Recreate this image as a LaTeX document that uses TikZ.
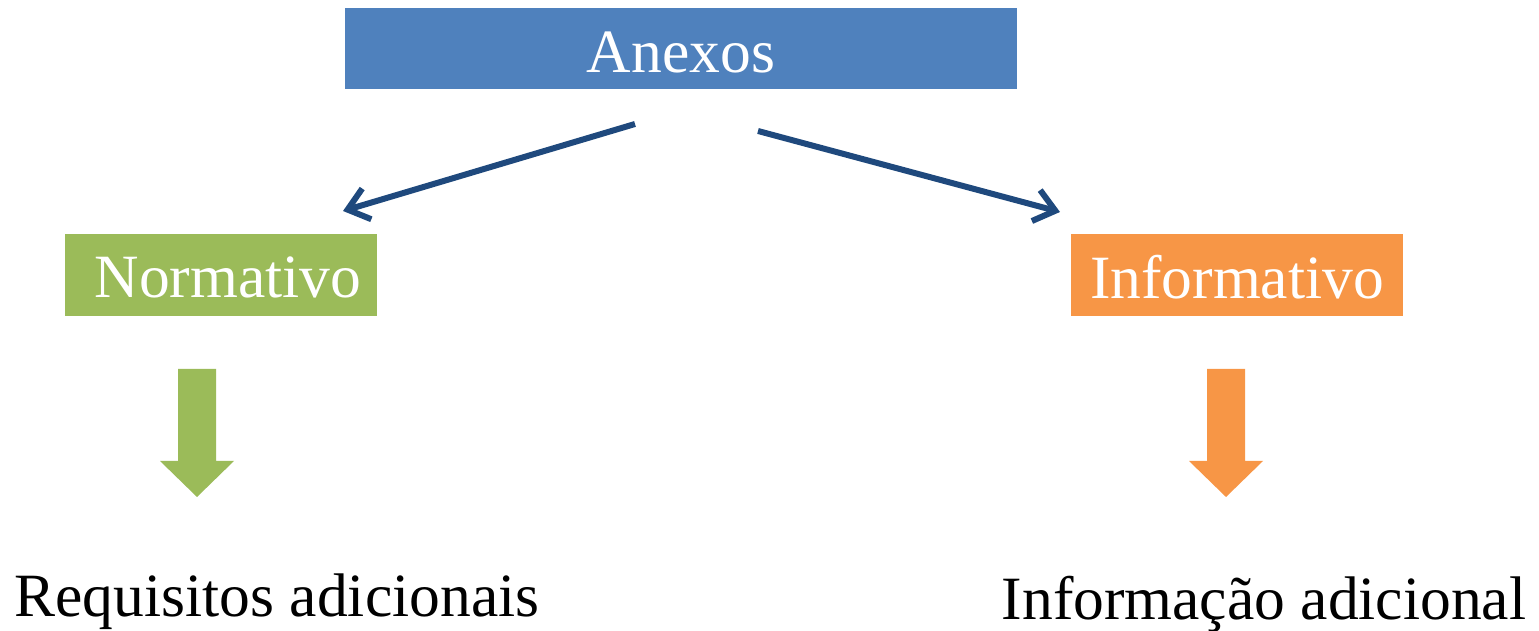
\documentclass[tikz,border=0pt]{standalone}
\usepackage{fontspec}
\setmainfont{Liberation Serif}
\definecolor{anexblue}{HTML}{4F81BD}
\definecolor{normgreen}{HTML}{9BBB59}
\definecolor{infoorange}{HTML}{F79646}
\definecolor{linkblue}{HTML}{1F497D}
\tikzset{
  boxnode/.style={inner sep=0pt,text=white,font=\fontsize{17.5}{20}\selectfont},
  captext/.style={inner sep=0pt,text=black,font=\fontsize{17.5}{20}\selectfont},
  linkarrow/.style={draw=linkblue,line width=0.6mm,->,>={Straight Barb[length=2mm,width=3.2mm]}},
}
\usetikzlibrary{arrows.meta}
\begin{document}
\begin{tikzpicture}[x=0.01cm,y=-0.01cm]
\useasboundingbox (0,0) rectangle (1539,631);

% boxes:
\path[fill=anexblue] (345,8) rectangle (1017,89);
\path[fill=normgreen] (65,234) rectangle (377,316);
\path[fill=infoorange] (1071,234) rectangle (1403,316);
\path (681,52) node[boxnode] (anexos) {Anexos};
\path (228,277) node[boxnode] (normativo) {Normativo};
\path (1237,277) node[boxnode] (informativo) {Informativo};

% links:
\coordinate (la) at (635,124);
\coordinate (lb) at (343,211);
\coordinate (ra) at (758,131);
\coordinate (rb) at (1060,212);
\draw[linkarrow] (la) -- (lb);
\draw[linkarrow] (ra) -- (rb);

% block arrows:
\path[fill=normgreen] (178,369) -- (216,369) -- (216,461) -- (234,461) -- (197,497)
  -- (160,461) -- (178,461) -- cycle;
\path[fill=infoorange] (1207,369) -- (1245,369) -- (1245,461) -- (1263,461) -- (1226,497)
  -- (1189,461) -- (1207,461) -- cycle;

% results:
\path (277,617) node[captext,anchor=base] (requisitos) {Requisitos adicionais};
\path (1264,620) node[captext,anchor=base] (informacao) {Informação adicional};

\end{tikzpicture}
\end{document}
